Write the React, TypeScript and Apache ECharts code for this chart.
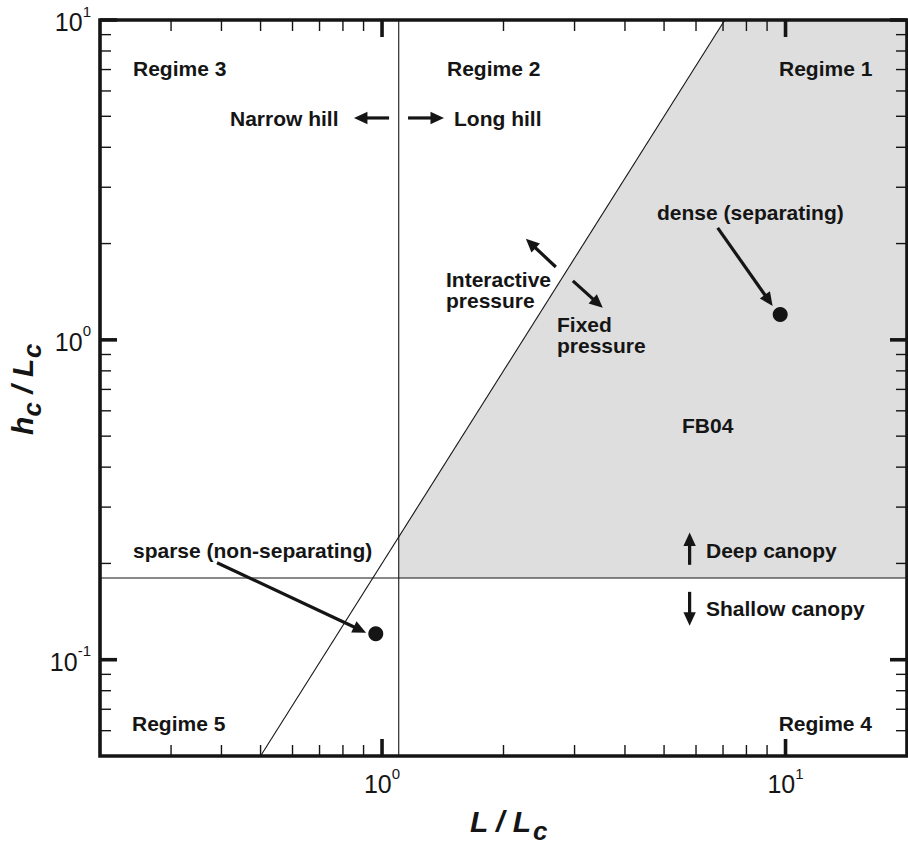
import React, { useEffect, useRef } from "react";
import * as echarts from "echarts";

// Axis extents (log-log)
const xRange = [0.2, 20];
const yRange = [0.05, 10];

// Decade and intermediate ticks
const xMajorTicks = [1, 10];
const xMinorTicks = [0.3, 0.4, 0.5, 0.6, 0.7, 0.8, 0.9, 2, 3, 4, 5, 6, 7, 8, 9];
const yMajorTicks = [0.1, 1, 10];
const yMinorTicks = [
  0.06, 0.07, 0.08, 0.09,
  0.2, 0.3, 0.4, 0.5, 0.6, 0.7, 0.8, 0.9,
  2, 3, 4, 5, 6, 7, 8, 9,
];

// Regime boundaries
const hillLengthBoundary = 1.1; // L / Lc
const canopyDepthBoundary = 0.18; // hc / Lc
const pressureBoundary = [
  [0.5, 0.05],
  [7.071, 10],
];

// FB04 region (deep canopy, long hill, fixed pressure side)
const fb04Region = [
  [1.1, 0.18],
  [20, 0.18],
  [20, 10],
  [7.071, 10],
  [1.1, 0.242],
];

// Canopy cases
const canopyCases = [
  { name: "dense (separating)", value: [9.7, 1.2] },
  { name: "sparse (non-separating)", value: [0.965, 0.1205] },
];

// Annotation arrows: [tailX, tailY, tipX, tipY]
const annotationArrows = [
  [6.79, 2.24, 9.29, 1.277],
  [0.39, 0.201, 0.913, 0.1215],
  [2.696, 1.69, 2.272, 2.069],
  [2.971, 1.529, 3.524, 1.259],
  [1.041, 4.94, 0.852, 4.94],
  [1.16, 4.94, 1.424, 4.94],
  [5.785, 0.198, 5.785, 0.25],
  [5.785, 0.163, 5.785, 0.1277],
];

const FONT = '"Liberation Sans", Arial, Helvetica, sans-serif';
const INK = "#151515";

function txt(
  text: string,
  x: number,
  y: number,
  font: string,
  align: string = "left",
  vAlign: string = "middle"
) {
  return {
    type: "text",
    x,
    y,
    style: {
      text,
      font,
      fill: INK,
      textAlign: align,
      textVerticalAlign: vAlign,
      align,
      verticalAlign: vAlign,
    },
  };
}

// Text element for the graphic layer, kept above every series
function gtxt(
  text: string,
  x: number,
  y: number,
  font: string,
  align: string = "left"
) {
  return { ...txt(text, x, y, font, align), z: 100 };
}

function supWidth(s: string, fs: number) {
  let w = 0;
  for (const ch of s) w += ch === "-" ? 0.333 * fs : 0.556 * fs;
  return w;
}

function renderArrow(_params: any, api: any) {
  const a = api.coord([api.value(0), api.value(1)]);
  const b = api.coord([api.value(2), api.value(3)]);
  const dx = b[0] - a[0];
  const dy = b[1] - a[1];
  const len = Math.hypot(dx, dy);
  const ux = dx / len;
  const uy = dy / len;
  const head = 13.5;
  const half = 6.2;
  const bx = b[0] - ux * head;
  const by = b[1] - uy * head;
  return {
    type: "group",
    children: [
      {
        type: "line",
        shape: { x1: a[0], y1: a[1], x2: bx + ux * 2, y2: by + uy * 2 },
        style: { stroke: INK, lineWidth: 3.2 },
      },
      {
        type: "polygon",
        shape: {
          points: [
            [b[0], b[1]],
            [bx - uy * half, by + ux * half],
            [bx + uy * half, by - ux * half],
          ],
        },
        style: { fill: INK },
      },
    ],
  };
}

function renderRegion(_params: any, api: any) {
  return {
    type: "polygon",
    shape: { points: fb04Region.map((p) => api.coord(p)) },
    style: { fill: "#dedede" },
  };
}

function renderFrame(_params: any, api: any) {
  const tl = api.coord([xRange[0], yRange[1]]);
  const br = api.coord([xRange[1], yRange[0]]);
  const children: any[] = [];
  const seg = (x1: number, y1: number, x2: number, y2: number, w: number) =>
    children.push({
      type: "line",
      shape: { x1, y1, x2, y2 },
      style: { stroke: INK, lineWidth: w },
    });

  const majLen = 17;
  const minLen = 11;
  xMajorTicks.forEach((v) => {
    const x = api.coord([v, yRange[0]])[0];
    seg(x, br[1], x, br[1] - majLen, 3.6);
    seg(x, tl[1], x, tl[1] + majLen, 3.6);
  });
  xMinorTicks.forEach((v) => {
    const x = api.coord([v, yRange[0]])[0];
    seg(x, br[1], x, br[1] - minLen, 1.4);
    seg(x, tl[1], x, tl[1] + minLen, 1.4);
  });
  yMajorTicks.forEach((v) => {
    const y = api.coord([xRange[0], v])[1];
    seg(tl[0], y, tl[0] + majLen, y, 3.6);
    seg(br[0], y, br[0] - majLen, y, 3.6);
  });
  yMinorTicks.forEach((v) => {
    const y = api.coord([xRange[0], v])[1];
    seg(tl[0], y, tl[0] + minLen, y, 1.4);
    seg(br[0], y, br[0] - minLen, y, 1.4);
  });

  children.push({
    type: "rect",
    shape: { x: tl[0], y: tl[1], width: br[0] - tl[0], height: br[1] - tl[1] },
    style: { fill: "none", stroke: INK, lineWidth: 3.6 },
  });

  // Decade labels, 10 with a superscript exponent
  const baseFs = 25;
  const supFs = 15;
  const baseFont = `${baseFs}px ${FONT}`;
  const supFont = `${supFs}px ${FONT}`;
  const baseW = 2 * 0.556 * baseFs;
  xMajorTicks.forEach((v) => {
    const e = String(Math.round(Math.log10(v)));
    const x = api.coord([v, yRange[0]])[0];
    const sw = supWidth(e, supFs);
    const left = x - (baseW + sw) / 2;
    children.push(txt("10", left, br[1] + 28, baseFont, "left"));
    children.push(txt(e, left + baseW, br[1] + 17, supFont, "left"));
  });
  yMajorTicks.forEach((v) => {
    const e = String(Math.round(Math.log10(v)));
    const y = api.coord([xRange[0], v])[1];
    const sw = supWidth(e, supFs);
    const right = tl[0] - 9;
    children.push(txt("10", right - sw, y + 2, baseFont, "right"));
    children.push(txt(e, right - sw, y - 9, supFont, "left"));
  });

  return { type: "group", children };
}

export default function App() {
  const ref = useRef<HTMLDivElement>(null);

  useEffect(() => {
    if (!ref.current) return;
    const chart = echarts.init(ref.current, null, { renderer: "svg" });
    const bold = `bold 21px ${FONT}`;
    const titleFont = `italic bold 30px ${FONT}`;
    const subFont = `italic bold 26px ${FONT}`;

    const option: any = {
      animation: false,
      backgroundColor: "#ffffff",
      grid: {
        left: 100,
        top: 20,
        width: 807,
        height: 736,
        containLabel: false,
        outerBoundsMode: "none",
      },
      xAxis: {
        type: "log",
        logBase: 10,
        min: xRange[0],
        max: xRange[1],
        axisLine: { show: false },
        axisTick: { show: false },
        axisLabel: { show: false },
        splitLine: { show: false },
      },
      yAxis: {
        type: "log",
        logBase: 10,
        min: yRange[0],
        max: yRange[1],
        axisLine: { show: false },
        axisTick: { show: false },
        axisLabel: { show: false },
        splitLine: { show: false },
      },
      series: [
        {
          type: "custom",
          name: "FB04",
          z: 1,
          silent: true,
          renderItem: renderRegion,
          data: [[1, 1]],
        },
        {
          type: "line",
          z: 2,
          silent: true,
          symbol: "none",
          lineStyle: { color: INK, width: 1.1 },
          data: [
            [hillLengthBoundary, yRange[0]],
            [hillLengthBoundary, yRange[1]],
          ],
        },
        {
          type: "line",
          z: 2,
          silent: true,
          symbol: "none",
          lineStyle: { color: INK, width: 1.1 },
          data: [
            [xRange[0], canopyDepthBoundary],
            [xRange[1], canopyDepthBoundary],
          ],
        },
        {
          type: "line",
          z: 2,
          silent: true,
          symbol: "none",
          lineStyle: { color: INK, width: 1.1 },
          data: pressureBoundary,
        },
        {
          type: "scatter",
          z: 3,
          silent: true,
          symbol: "circle",
          symbolSize: 15,
          itemStyle: { color: INK, opacity: 1 },
          data: canopyCases.map((c) => c.value),
        },
        {
          type: "custom",
          z: 4,
          silent: true,
          renderItem: renderArrow,
          encode: { x: [0, 2], y: [1, 3] },
          data: annotationArrows,
        },
        {
          type: "custom",
          z: 5,
          silent: true,
          renderItem: renderFrame,
          data: [[1, 1]],
        },
      ],
      graphic: {
        elements: [
          gtxt("Regime 3", 133, 68, bold),
          gtxt("Regime 2", 447, 68, bold),
          gtxt("Regime 1", 779, 68, bold),
          gtxt("Narrow hill", 230, 118, bold),
          gtxt("Long hill", 454, 118, bold),
          gtxt("Interactive", 446, 279, bold),
          gtxt("pressure", 446, 300, bold),
          gtxt("Fixed", 557, 324, bold),
          gtxt("pressure", 557, 345, bold),
          gtxt("dense (separating)", 657, 212, bold),
          gtxt("FB04", 682, 425, bold),
          gtxt("sparse (non-separating)", 133, 550, bold),
          gtxt("Deep canopy", 706, 550, bold),
          gtxt("Shallow canopy", 706, 608, bold),
          gtxt("Regime 5", 132, 723, bold),
          gtxt("Regime 4", 872, 723, bold, "right"),
          gtxt("L / L", 470, 821.5, titleFont),
          gtxt("c", 533, 831, subFont),
          {
            type: "group",
            z: 100,
            x: 33,
            y: 435,
            rotation: Math.PI / 2,
            children: [
              gtxt("h", 0, -10.5, titleFont),
              gtxt("c", 18.5, -1, subFont),
              gtxt(" / L", 33, -10.5, titleFont),
              gtxt("c", 77, -1, subFont),
            ],
          },
        ],
      },
    };

    chart.setOption(option);
    return () => chart.dispose();
  }, []);

  return (
    <div
      ref={ref}
      style={{ position: "absolute", left: 0, top: 0, width: 908, height: 845 }}
    />
  );
}
